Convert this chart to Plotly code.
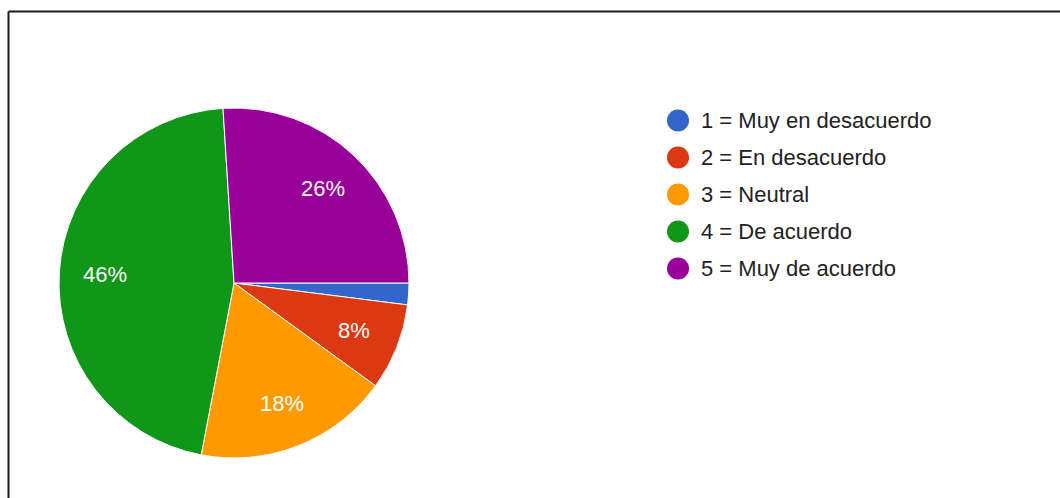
import math
import plotly.graph_objects as go

# Survey answers (Likert scale) and their share of responses, in percent
labels = ["1 = Muy en desacuerdo", "2 = En desacuerdo", "3 = Neutral",
          "4 = De acuerdo", "5 = Muy de acuerdo"]
values = [2, 8, 18, 46, 26]
colors = ["#3366cc", "#dc3912", "#ff9900", "#109618", "#990099"]

W, H = 1060, 498
CX, CY, R = 234, 283, 175          # pie centre / radius in pixels
START_DEG = 90                      # first slice starts at 3 o'clock
FONT = "Liberation Sans, Arial, sans-serif"

fig = go.Figure(go.Pie(
    labels=labels,
    values=values,
    marker=dict(colors=colors, line=dict(color="white", width=1)),
    sort=False,
    direction="clockwise",
    rotation=START_DEG,
    textinfo="none",
    hoverinfo="label+percent",
    showlegend=False,
    domain=dict(x=[(CX - R) / W, (CX + R) / W],
                y=[1 - (CY + R) / H, 1 - (CY - R) / H]),
))

# Percentage labels placed along each slice's bisector
total = sum(values)
annotations = []
cum = 0.0
for v in values:
    frac = v / total
    mid = cum + frac / 2
    cum += frac
    if frac < 0.05:
        continue
    theta = math.radians(START_DEG + 360 * mid)
    r = 0.74 * R
    px = CX + r * math.sin(theta)
    py = CY - r * math.cos(theta)
    annotations.append(dict(
        x=px / W, y=1 - py / H, xref="paper", yref="paper",
        text=f"{round(frac * 100)}%", showarrow=False,
        font=dict(family=FONT, size=22, color="white"),
        xanchor="center", yanchor="middle",
    ))

# Legend: coloured dots with labels
shapes = []
LX, LY, STEP, DOT = 678, 120.5, 37, 11
for i, (lab, col) in enumerate(zip(labels, colors)):
    y = LY + STEP * i
    shapes.append(dict(
        type="circle", xref="paper", yref="paper",
        x0=(LX - DOT) / W, x1=(LX + DOT) / W,
        y0=1 - (y + DOT) / H, y1=1 - (y - DOT) / H,
        fillcolor=col, line=dict(width=0),
    ))
    annotations.append(dict(
        x=699 / W, y=1 - y / H, xref="paper", yref="paper",
        text=lab, showarrow=False,
        font=dict(family=FONT, size=22, color="#222222"),
        xanchor="left", yanchor="middle",
    ))

# Frame lines along the top and left edges
shapes.append(dict(type="line", xref="paper", yref="paper",
                   x0=8.5 / W, x1=1, y0=1 - 11.5 / H, y1=1 - 11.5 / H,
                   line=dict(color="#1a1a1a", width=2)))
shapes.append(dict(type="line", xref="paper", yref="paper",
                   x0=8.5 / W, x1=8.5 / W, y0=0, y1=1 - 11.5 / H,
                   line=dict(color="#1a1a1a", width=2)))

fig.update_layout(
    width=W, height=H,
    margin=dict(l=0, r=0, t=0, b=0),
    paper_bgcolor="white",
    plot_bgcolor="white",
    annotations=annotations,
    shapes=shapes,
)

fig.write_html("out.html")
